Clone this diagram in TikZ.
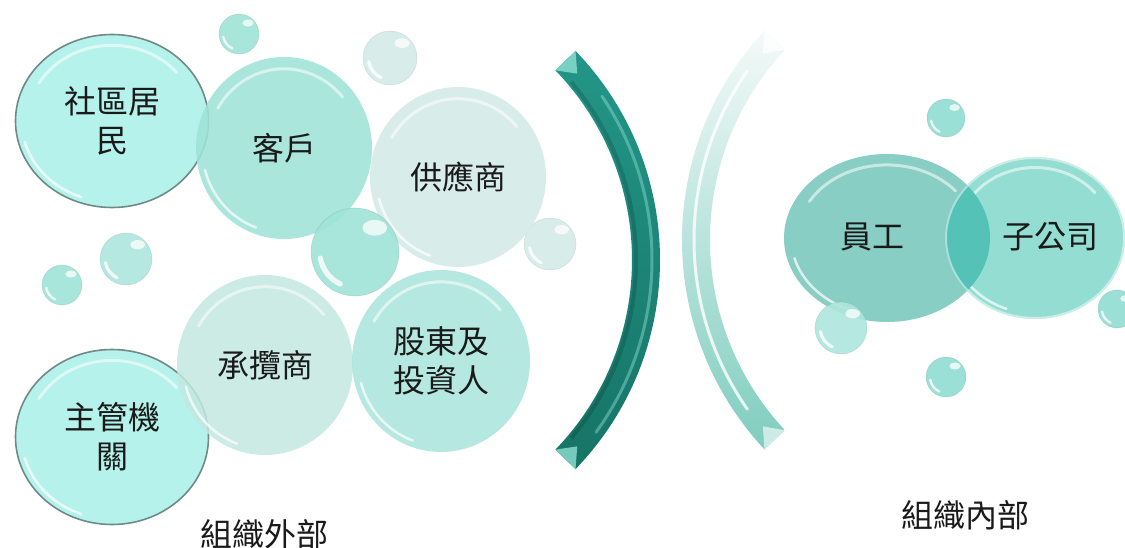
\documentclass[tikz,border=0pt]{standalone}
\usepackage{fontspec}
\setmainfont{Noto Sans CJK TC}
\usetikzlibrary{shapes.geometric,calc}
\definecolor{cEll}{HTML}{B4F2EB}
\definecolor{cRim}{HTML}{5E7070}
\definecolor{cKH}{HTML}{9FE3D8}
\definecolor{cGY}{HTML}{D4ECE8}
\definecolor{cCL}{HTML}{C2E8E0}
\definecolor{cGD}{HTML}{AEE6DD}
\definecolor{cYG}{HTML}{88CEC4}
\definecolor{cZG}{HTML}{93DDD2}
\definecolor{cOV}{HTML}{55C2B7}
\definecolor{cSB}{HTML}{90DDD2}
\definecolor{cTxt}{HTML}{1A1A1A}
\definecolor{cDarkTop}{HTML}{239688}
\definecolor{cDarkBot}{HTML}{167466}
\definecolor{cDarkBev}{HTML}{8EE0D2}
\definecolor{cLightTop}{HTML}{F4FAF9}
\definecolor{cLightBot}{HTML}{7FCDBF}
\tikzset{
  bubble/.style={ellipse, inner sep=0pt, outer sep=0pt, align=center, text=cTxt,
    font=\fontsize{32}{39}\selectfont},
  gloss/.style={white, opacity=.55, line width=3pt, line cap=round},
  glossb/.style={white, opacity=.7, line width=2.5pt, line cap=round},
  lbl/.style={text=cTxt, font=\fontsize{32}{39}\selectfont, inner sep=0pt},
}
% #1 name, #2 center, #3 rx, #4 ry, #5 colour, #6 opacity, #7 text
\newcommand\bubb[7]{%
  \node[bubble, fill=#5, fill opacity=#6, text opacity=1, minimum width={2*#3 pt}, minimum height={2*#4 pt}] (#1) at (#2) {#7};
  \pgfmathsetmacro\gxa{0.87*#3}\pgfmathsetmacro\gya{0.87*#4}%
  \pgfmathsetmacro\gxb{0.93*#3}\pgfmathsetmacro\gyb{0.93*#4}%
  \draw[gloss] ([shift={(150:\gxa pt and \gya pt)}]#1.center) arc[start angle=150, end angle=40, x radius=\gxa pt, y radius=\gya pt];
  \draw[glossb] ([shift={(195:\gxb pt and \gyb pt)}]#1.center) arc[start angle=195, end angle=250, x radius=\gxb pt, y radius=\gyb pt];
}
% small bubble: #1 name, #2 centre, #3 r, #4 colour
\newcommand\sbub[4]{%
  \node[ellipse, inner sep=0pt, outer sep=0pt, fill=#4, fill opacity=.9, draw=#4!70!black, draw opacity=.25, line width=.6pt, minimum width={2*#3 pt}, minimum height={2*#3 pt}] (#1) at (#2) {};
  \pgfmathsetmacro\sxa{0.45*#3}\pgfmathsetmacro\sya{0.55*#3}\pgfmathsetmacro\sxb{0.8*#3}%
  \fill[white, opacity=.75] ([shift={(\sxa pt,\sya pt)}]#1.center) ellipse [x radius={0.28*#3 pt}, y radius={0.18*#3 pt}];
  \draw[white, opacity=.8, line width={0.12*#3 pt}, line cap=round] ([shift={(190:\sxb pt)}]#1.center) arc[start angle=190, end angle=245, radius=\sxb pt];
}
\begin{document}
\begin{tikzpicture}[x=1pt, y=-1pt]
\useasboundingbox (0,0) rectangle (1125,548);
\fill[white] (0,0) rectangle (1125,548);

% ---------- left side ----------
\sbub{s1}{239,34}{20}{cKH}
\sbub{s2}{390,58}{27}{cGY}
\sbub{s3}{126,259}{26}{cGD}
\sbub{s4}{62,285}{20}{cKH}
\sbub{s5}{550,244}{26}{cGY}

% ellipses with rim
\bubb{sq}{112,121}{97}{87}{cEll}{1}{社區居\\民}
\draw[cRim, line width=1.6pt, opacity=.8] (sq.center) ellipse [x radius=96.5pt, y radius=86.5pt];
\bubb{zg}{112,437}{97}{88}{cEll}{1}{主管機\\關}
\draw[cRim, line width=1.6pt, opacity=.8] (zg.center) ellipse [x radius=96.5pt, y radius=87.5pt];

\bubb{kh}{284,148}{88}{91}{cKH}{.88}{客戶}
\bubb{gy}{458,177}{88}{90}{cGY}{.9}{供應商}
\sbub{s6}{355,252}{44}{cKH}
\bubb{cl}{265,365}{88}{90}{cCL}{.85}{承攬商}
\bubb{gd}{441,361}{89}{91}{cGD}{.9}{\fontsize{32}{50}\selectfont 股東及\\投資人}

\node[lbl] (out) at (264,534) {組織外部};

% ---------- arcs ----------
% dark arc, centre (359,260)
\shade[top color=cDarkTop, bottom color=cDarkBot]
  ($(359,260)+(-44:301)$) arc[start angle=-44, end angle=44, radius=301]
  -- ($(359,260)+(44:273)$) arc[start angle=44, end angle=-44, radius=273] -- cycle;
\draw[cDarkBev, opacity=.45, line width=3pt, line cap=round]
  ($(359,260)+(-34:293)$) arc[start angle=-34, end angle=36, radius=293];
\draw[black, opacity=.15, line width=4pt]
  ($(359,260)+(-40:277)$) arc[start angle=-40, end angle=40, radius=277];
\fill[cDarkBev, opacity=.8] ($(359,260)+(-44:301)$) -- ($(359,260)+(-44:273)$) -- ($(359,260)+(-40.5:287)$) -- cycle;
\fill[cDarkBev, opacity=.8] ($(359,260)+(44:301)$) -- ($(359,260)+(44:273)$) -- ($(359,260)+(40.5:287)$) -- cycle;

% light arc, centre (989,240)
\shade[top color=cLightTop, bottom color=cLightBot]
  ($(989,240)+(137:307)$) arc[start angle=137, end angle=223, radius=307]
  -- ($(989,240)+(223:279)$) arc[start angle=223, end angle=137, radius=279] -- cycle;
\draw[white, opacity=.8, line width=3pt, line cap=round]
  ($(989,240)+(145:295)$) arc[start angle=145, end angle=215, radius=295];
\fill[white, opacity=.8] ($(989,240)+(223:307)$) -- ($(989,240)+(223:279)$) -- ($(989,240)+(219.5:293)$) -- cycle;
\fill[white, opacity=.6] ($(989,240)+(137:307)$) -- ($(989,240)+(137:279)$) -- ($(989,240)+(140.5:293)$) -- cycle;

% ---------- right side ----------
\sbub{s7}{946,118}{19}{cSB}
\bubb{yg}{887,238}{103}{84}{cYG}{1}{}
\bubb{zgs}{1035,238}{90}{81}{cZG}{1}{}
\begin{scope}
  \clip (887,238) ellipse [x radius=103, y radius=84];
  \fill[cOV] (1035,238) ellipse [x radius=90, y radius=81];
\end{scope}
\draw[white, opacity=.5, line width=2pt] (1035,238) ellipse [x radius=89, y radius=80];
\node[lbl] (tyg) at (872,237) {員工};
\node[lbl] (tzg) at (1050,237) {子公司};
\sbub{s8}{841,328}{26}{cGD}
\sbub{s9}{946,377}{20}{cSB}
\sbub{s10}{1117,309}{19}{cSB}

\node[lbl] (in) at (965,515) {組織內部};
\end{tikzpicture}
\end{document}
